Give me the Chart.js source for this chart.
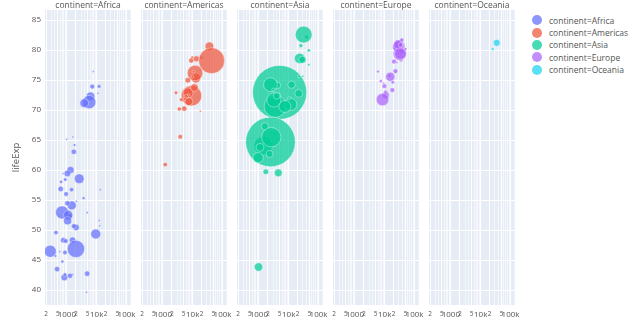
<!DOCTYPE html>
<html>
<head>
<meta charset="utf-8">
<script src="https://cdn.jsdelivr.net/npm/chart.js@4.4.1/dist/chart.umd.min.js"></script>
<style>
  html, body { margin: 0; padding: 0; background: #fff; }
  #wrap { position: relative; width: 640px; height: 325px; overflow: hidden; font-family: "Open Sans", sans-serif; }
  #wrap canvas { position: absolute; top: 0; }
  .facet { position: absolute; top: 0; height: 10px; line-height: 10px; font-size: 8.5px; color: #555; text-align: center; white-space: nowrap; }
  #legend { position: absolute; left: 532px; top: 14px; }
  .item { height: 12.4px; display: flex; align-items: center; font-size: 8.5px; color: #555; white-space: nowrap; }
  .dot { width: 10px; height: 10px; border-radius: 50%; margin-right: 7px; }
</style>
</head>
<body>
<div id="wrap"><div id="legend"></div></div>
<script>
// Gapminder 2007: one row per country
const country = [
  'Algeria','Angola','Benin','Botswana','Burkina Faso','Burundi','Cameroon','Central African Republic','Chad','Comoros',
  'Congo, Dem. Rep.','Congo, Rep.',"Cote d'Ivoire",'Djibouti','Egypt','Equatorial Guinea','Eritrea','Ethiopia','Gabon','Gambia',
  'Ghana','Guinea','Guinea-Bissau','Kenya','Lesotho','Liberia','Libya','Madagascar','Malawi','Mali',
  'Mauritania','Mauritius','Morocco','Mozambique','Namibia','Niger','Nigeria','Reunion','Rwanda','Sao Tome and Principe',
  'Senegal','Sierra Leone','Somalia','South Africa','Sudan','Swaziland','Tanzania','Togo','Tunisia','Uganda',
  'Zambia','Zimbabwe',
  'Argentina','Bolivia','Brazil','Canada','Chile','Colombia','Costa Rica','Cuba','Dominican Republic','Ecuador',
  'El Salvador','Guatemala','Haiti','Honduras','Jamaica','Mexico','Nicaragua','Panama','Paraguay','Peru',
  'Puerto Rico','Trinidad and Tobago','United States','Uruguay','Venezuela',
  'Afghanistan','Bahrain','Bangladesh','Cambodia','China','Hong Kong, China','India','Indonesia','Iran','Iraq',
  'Israel','Japan','Jordan','Korea, Dem. Rep.','Korea, Rep.','Kuwait','Lebanon','Malaysia','Mongolia','Myanmar',
  'Nepal','Oman','Pakistan','Philippines','Saudi Arabia','Singapore','Sri Lanka','Syria','Taiwan','Thailand',
  'Vietnam','West Bank and Gaza','Yemen, Rep.',
  'Albania','Austria','Belgium','Bosnia and Herzegovina','Bulgaria','Croatia','Czech Republic','Denmark','Finland','France',
  'Germany','Greece','Hungary','Iceland','Ireland','Italy','Montenegro','Netherlands','Norway','Poland',
  'Portugal','Romania','Serbia','Slovak Republic','Slovenia','Spain','Sweden','Switzerland','Turkey','United Kingdom',
  'Australia','New Zealand'
];
const continent = [].concat(
  Array(52).fill('Africa'), Array(25).fill('Americas'), Array(33).fill('Asia'),
  Array(30).fill('Europe'), Array(2).fill('Oceania')
);
const gdpPercap = [
  6223.4, 4797.2, 1441.3, 12569.9, 1217.0, 430.1, 2042.1, 706.0, 1704.1, 986.1,
  277.6, 3632.6, 1544.8, 2082.5, 5581.2, 12154.1, 641.4, 690.8, 13206.5, 752.7,
  1327.6, 942.7, 579.2, 1463.2, 1569.3, 414.5, 12057.5, 1044.8, 759.3, 1042.6,
  1803.2, 10957.0, 3820.2, 823.7, 4811.1, 619.7, 2014.0, 7670.1, 863.1, 1598.4,
  1712.5, 862.5, 926.1, 9269.7, 2602.4, 4513.5, 1107.5, 883.0, 7092.9, 1056.4,
  1271.2, 469.7,
  12779.4, 3822.1, 9065.8, 36319.2, 13171.6, 7006.6, 9645.1, 8948.1, 6025.4, 6873.3,
  5728.4, 5186.1, 1201.6, 3548.3, 7320.9, 11977.6, 2749.3, 9809.2, 4172.8, 7408.9,
  19328.7, 18008.5, 42951.7, 10611.5, 11415.8,
  974.6, 29796.0, 1391.3, 1713.8, 4959.1, 39725.0, 2452.2, 3540.7, 11605.7, 4471.1,
  25523.3, 31656.1, 4519.5, 1593.1, 23348.1, 47307.0, 10461.1, 12451.7, 3095.8, 944.0,
  1091.4, 22316.2, 2605.9, 3190.5, 21654.8, 47143.2, 3970.1, 4184.5, 28718.3, 7458.4,
  2441.6, 3025.3, 2280.8,
  5937.0, 36126.5, 33692.6, 7446.3, 10680.8, 14619.2, 22833.3, 35278.4, 33207.1, 30470.0,
  32170.4, 27538.4, 18008.9, 36180.8, 40676.0, 28569.7, 9253.9, 36797.9, 49357.2, 15389.9,
  20509.6, 10808.5, 9786.5, 18678.3, 25768.3, 28821.1, 33859.7, 37506.4, 8458.3, 33203.3,
  34435.4, 25185.0
];
const lifeExp = [
  72.301, 42.731, 56.728, 50.728, 52.295, 49.580, 50.430, 44.741, 50.651, 65.152,
  46.462, 55.322, 48.328, 54.791, 71.338, 51.579, 58.040, 52.947, 56.735, 59.448,
  60.022, 56.007, 46.388, 54.110, 42.592, 45.678, 73.952, 59.443, 48.303, 54.467,
  64.164, 72.801, 71.164, 42.082, 52.906, 56.867, 46.859, 76.442, 46.242, 65.528,
  63.062, 42.568, 48.159, 49.339, 58.556, 39.613, 52.517, 58.420, 73.923, 51.542,
  42.384, 43.487,
  75.320, 65.554, 72.390, 80.653, 78.553, 72.889, 78.782, 78.273, 72.235, 74.994,
  71.878, 70.259, 60.916, 70.198, 72.567, 76.195, 72.899, 75.537, 71.752, 71.421,
  78.746, 69.819, 78.242, 76.384, 73.747,
  43.828, 75.635, 64.062, 59.723, 72.961, 82.208, 64.698, 70.650, 70.964, 59.545,
  80.745, 82.603, 72.535, 67.297, 78.623, 77.588, 71.993, 74.241, 66.803, 62.069,
  63.785, 75.640, 65.483, 71.688, 72.777, 79.972, 72.396, 74.143, 78.400, 70.616,
  74.249, 73.422, 62.698,
  76.423, 79.829, 79.441, 74.852, 73.005, 75.748, 76.486, 78.332, 79.313, 80.657,
  79.406, 79.483, 73.338, 81.757, 78.885, 80.546, 74.543, 79.762, 80.196, 75.563,
  78.098, 72.476, 74.002, 74.663, 77.926, 80.941, 80.884, 81.701, 71.777, 79.425,
  81.235, 80.204
];
const pop = [
  33333216, 12420476, 8078314, 1639131, 14326203, 8390505, 17696293, 4369038, 10238807, 710960,
  64606759, 3800610, 18013409, 496374, 80264543, 551201, 4906585, 76511887, 1454867, 1688359,
  22873338, 9947814, 1472041, 35610177, 2012649, 3193942, 6036914, 19167654, 13327079, 12031795,
  3270065, 1250882, 33757175, 19951656, 2055080, 12894865, 135031164, 798094, 8860588, 199579,
  12267493, 6144562, 9118773, 43997828, 42292929, 1133066, 38139640, 5701579, 10276158, 29170398,
  11746035, 12311143,
  40301927, 9119152, 190010647, 33390141, 16284741, 44227550, 4133884, 11416987, 9319622, 13755680,
  6939688, 12572928, 8502814, 7483763, 2780132, 108700891, 5675356, 3242173, 6667147, 28674757,
  3942491, 1056608, 301139947, 3447496, 26084662,
  31889923, 708573, 150448339, 14131858, 1318683096, 6980412, 1110396331, 223547000, 69453570, 27499638,
  6426679, 127467972, 6053193, 23301725, 49044790, 2505559, 3921278, 24821286, 2874127, 47761980,
  28901790, 3204897, 169270617, 91077287, 27601038, 4553009, 20378239, 19314747, 23174294, 65068149,
  85262356, 4018332, 22211743,
  3600523, 8199783, 10392226, 4552198, 7322858, 4493312, 10228744, 5468120, 5238460, 61083916,
  82400996, 10706290, 9956108, 301931, 4109086, 58147733, 684736, 16570613, 4627926, 38518241,
  10642836, 22276056, 10150265, 5447502, 2009245, 40448191, 9031088, 7554661, 71158647, 60776238,
  20434176, 4115771
];

// facets, colours and axis ticks
const facets = ['Africa', 'Americas', 'Asia', 'Europe', 'Oceania'];
const facetColors = ['#636efa', '#EF553B', '#00cc96', '#ab63fa', '#19d3f3'];
const yTicks = [40, 45, 50, 55, 60, 65, 70, 75, 80, 85];
const xTickValues = [200, 500, 1000, 2000, 5000, 10000, 20000, 50000, 100000];
const xTickLabels = ['2', '5', '1000', '2', '5', '10k', '2', '5', '100k'];
const xRange = [185, 137000];
const yRange = [37.5, 86.7];

// layout of the facet panels (pixels)
const panelLeft = [45, 141, 237, 333, 429];
const panelW = 86;
const plotTop = 10;
const sideRoom = 10;
const maxBubble = 27;   // radius of the most populous country

// every 1..9 step of each decade gets a vertical grid line
const xGrid = [];
for (let d = 100; d <= 100000; d *= 10) {
  for (let m = 1; m <= 9; m++) {
    const v = m * d;
    if (v >= xRange[0] && v <= xRange[1]) xGrid.push(v);
  }
}

const maxPop = Math.max(...pop);
function radius(p) { return Math.max(1, maxBubble * Math.sqrt(p / maxPop)); }

function hexA(hex, a) {
  const n = parseInt(hex.slice(1), 16);
  return `rgba(${(n >> 16) & 255},${(n >> 8) & 255},${n & 255},${a})`;
}

const plotBg = {
  id: 'plotBg',
  beforeDraw(chart) {
    const { ctx, chartArea: a } = chart;
    ctx.save();
    ctx.fillStyle = '#E5ECF6';
    ctx.fillRect(a.left, a.top, a.right - a.left, a.bottom - a.top);
    ctx.restore();
  }
};

const wrap = document.getElementById('wrap');

facets.forEach((name, i) => {
  const first = i === 0;
  const left = first ? 0 : panelLeft[i] - sideRoom;
  const width = first ? panelLeft[0] + panelW + sideRoom : panelW + 2 * sideRoom;

  const cv = document.createElement('canvas');
  cv.width = width; cv.height = 325;
  cv.style.left = left + 'px';
  cv.style.width = width + 'px'; cv.style.height = '325px';
  wrap.appendChild(cv);

  const title = document.createElement('div');
  title.className = 'facet';
  title.style.left = panelLeft[i] + 'px';
  title.style.width = panelW + 'px';
  title.textContent = 'continent=' + name;
  wrap.appendChild(title);

  const points = [];
  for (let k = 0; k < country.length; k++) {
    if (continent[k] === name) {
      points.push({ x: gdpPercap[k], y: lifeExp[k], r: radius(pop[k]) });
    }
  }

  new Chart(cv, {
    type: 'bubble',
    data: {
      datasets: [{
        label: 'continent=' + name,
        data: points,
        backgroundColor: hexA(facetColors[i], 0.72),
        borderColor: 'rgba(255,255,255,0.55)',
        borderWidth: 0.7,
        clip: 0
      }]
    },
    options: {
      responsive: false,
      animation: false,
      events: [],
      layout: {
        autoPadding: false,
        padding: { left: first ? 0 : sideRoom, right: sideRoom, top: plotTop, bottom: 0 }
      },
      plugins: { legend: { display: false }, tooltip: { enabled: false } },
      scales: {
        x: {
          type: 'logarithmic',
          min: xRange[0], max: xRange[1],
          afterBuildTicks: s => { s.ticks = xGrid.map(v => ({ value: v })); },
          afterFit: s => { s.height = 20; },
          border: { display: false },
          grid: {
            drawTicks: false,
            color: ctx => (ctx.tick && xTickValues.includes(ctx.tick.value)) ? '#ffffff' : 'rgba(255,255,255,0.6)',
            lineWidth: 1
          },
          ticks: {
            autoSkip: false, maxRotation: 0, minRotation: 0, padding: 5,
            color: '#555',
            font: ctx => ({ family: 'Open Sans', size: (ctx.tick && [1000, 10000, 100000].includes(ctx.tick.value)) ? 8 : 6.5 }),
            callback: v => { const k = xTickValues.indexOf(v); return k >= 0 ? xTickLabels[k] : ''; }
          }
        },
        y: {
          type: 'linear',
          min: yRange[0], max: yRange[1],
          afterBuildTicks: s => { s.ticks = yTicks.map(v => ({ value: v })); },
          afterFit: s => { s.width = first ? panelLeft[0] : 0; },
          border: { display: false },
          grid: { drawTicks: false, color: '#ffffff', lineWidth: 1 },
          ticks: { display: first, padding: 4, color: '#555', font: { family: 'Open Sans', size: 8 } },
          title: {
            display: first, text: 'lifeExp', color: '#555',
            font: { family: 'Open Sans', size: 9.5 },
            padding: { top: 11, bottom: 0 }
          }
        }
      }
    },
    plugins: [plotBg]
  });
});

// legend
const legend = document.getElementById('legend');
facets.forEach((name, i) => {
  const row = document.createElement('div');
  row.className = 'item';
  const dot = document.createElement('span');
  dot.className = 'dot';
  dot.style.background = hexA(facetColors[i], 0.72);
  const txt = document.createElement('span');
  txt.textContent = 'continent=' + name;
  row.appendChild(dot); row.appendChild(txt);
  legend.appendChild(row);
});
</script>
</body>
</html>
